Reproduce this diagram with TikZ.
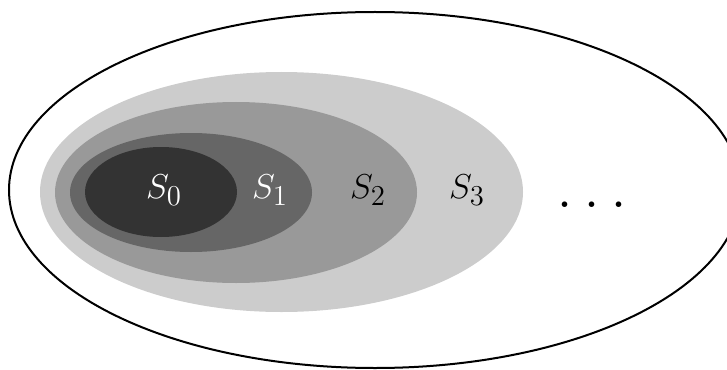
\documentclass[tikz,border=0pt]{standalone}
\usetikzlibrary{shapes.geometric}
\begin{document}
\begin{tikzpicture}[x=0.5pt,y=-0.5pt,
  lab/.style={anchor=base,inner sep=0pt,font=\fontsize{19}{23}\selectfont},
  region/.style={ellipse,inner sep=0pt,draw=none}]
\useasboundingbox (0,0) rectangle (727,369);
\clip (0,0) rectangle (727,369);
\node[region,fill=black!20,minimum width=241.5pt,minimum height=120pt] (r3) at (281.5,192) {};
\node[region,fill=black!40,minimum width=181pt,minimum height=90.5pt] (r2) at (236,192.5) {};
\node[region,fill=black!60,minimum width=121pt,minimum height=59.5pt] (r1) at (191,192.5) {};
\node[region,fill=black!80,minimum width=76pt,minimum height=45pt] (r0) at (161,192) {};
\node[region,draw=black,line width=1pt,minimum width=366pt,minimum height=178pt] (outer) at (375,190) {};
\node[lab,text=white] (s0) at (164,198.5) {$S_0$};
\node[lab,text=white] (s1) at (270,198.5) {$S_1$};
\node[lab] (s2) at (368,198.5) {$S_2$};
\node[lab] (s3) at (467,198.5) {$S_3$};
\node[anchor=base,inner sep=0pt,font=\fontsize{34}{38}\selectfont] (dots) at (591.5,207.5) {.\kern5pt.\kern5pt.};
\end{tikzpicture}
\end{document}
